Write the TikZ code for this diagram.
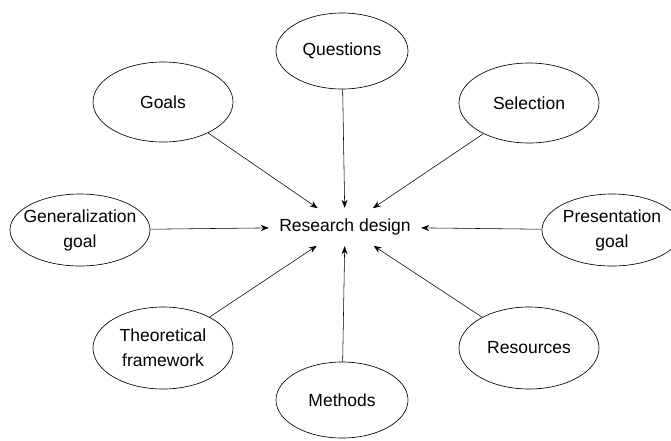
\documentclass[tikz,border=0pt]{standalone}
\usepackage{fontspec}
\setmainfont{Liberation Sans}
\usepackage{tikz}
\usetikzlibrary{shapes.geometric,arrows.meta}
\begin{document}
\begin{tikzpicture}[x=1pt,y=1pt]
\tikzstyle{every node}+=[inner sep=0pt, align=center, font=\fontsize{17.5}{25}\selectfont]
\tikzstyle{oval}=[draw, ellipse, line width=0.65pt, minimum width=140, minimum height=80]
\tikzstyle{arr}=[-{Stealth[length=8pt,width=6pt]}, line width=0.55pt, shorten >=1pt]
\useasboundingbox (0,0) rectangle (671,-440);
\node [minimum width=150, minimum height=36] (design) at (345,-227) {Research design};
\node [oval, minimum width=132, minimum height=76] (questions) at (342,-51) {Questions};
\node [oval] (goals) at (163,-102) {Goals};
\node [oval] (selection) at (529,-103) {Selection};
\node [oval, minimum height=72, inner xsep=-10pt] (generalization) at (80,-230) {Generalization\\goal};
\node [oval, minimum height=72] (presentation) at (612,-230) {Presentation\\goal};
\node [oval, minimum height=82] (theory) at (163,-348) {Theoretical\\framework};
\node [oval, minimum height=82] (resources) at (529,-348) {Resources};
\node [oval, minimum width=132, minimum height=76] (methods) at (342,-400) {Methods};
\draw [arr] (questions) -- (design);
\draw [arr] (goals) -- (design);
\draw [arr] (selection) -- (design);
\draw [arr] (generalization) -- (design);
\draw [arr] (presentation) -- (design);
\draw [arr] (theory) -- (design);
\draw [arr] (resources) -- (design);
\draw [arr] (methods) -- (design);
\end{tikzpicture}
\end{document}
